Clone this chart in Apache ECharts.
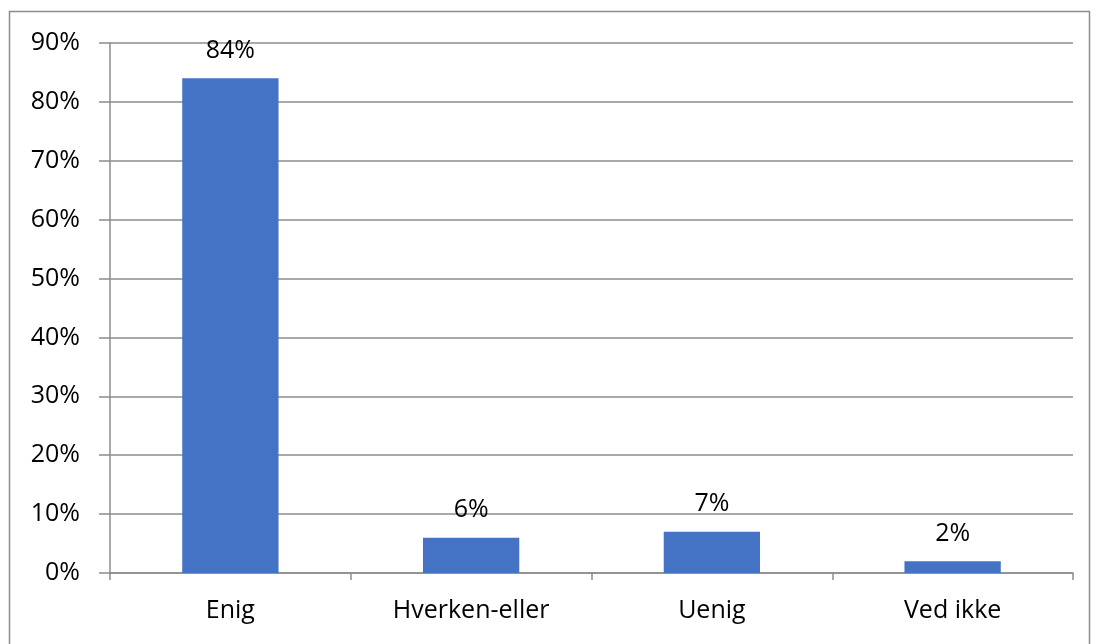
<!DOCTYPE html>
<html><head><meta charset="utf-8">
<script src="https://cdn.jsdelivr.net/npm/echarts@6/dist/echarts.min.js"></script>
<style>html,body{margin:0;padding:0;background:#fff}#c{width:1096px;height:644px}</style>
</head><body><div id="c"></div>
<script>
const categories = ["Enig", "Hverken-eller", "Uenig", "Ved ikke"];
const values = [84, 6, 7, 2];
const yTicks = [0, 10, 20, 30, 40, 50, 60, 70, 80, 90];

const chart = echarts.init(document.getElementById('c'), null, {renderer: 'canvas'});
const font = '"Open Sans", "Liberation Sans", sans-serif';
chart.setOption({
  animation: false,
  graphic: [{
    type: 'rect', shape: {x: 9.5, y: 11.5, width: 1080, height: 660},
    style: {fill: 'none', stroke: '#8c8c8c', lineWidth: 1.5}, silent: true
  }],
  grid: {left: 110, right: 23, top: 43, bottom: 71, containLabel: false},
  xAxis: {
    type: 'category', data: categories,
    axisLine: {lineStyle: {color: '#8c8c8c', width: 1.5}},
    axisTick: {show: true, length: 7, alignWithLabel: false, lineStyle: {color: '#8c8c8c', width: 1.5}},
    axisLabel: {color: '#000', fontSize: 25, fontFamily: font, margin: 25}
  },
  yAxis: {
    type: 'value', min: yTicks[0], max: yTicks[yTicks.length - 1], interval: 10,
    axisLine: {show: true, lineStyle: {color: '#8c8c8c', width: 1.5}},
    axisTick: {show: true, length: 11, lineStyle: {color: '#8c8c8c', width: 1.5}},
    splitLine: {lineStyle: {color: '#8c8c8c', width: 1.5}},
    axisLabel: {color: '#000', fontSize: 25, fontFamily: font, margin: 30, formatter: '{value}%'}
  },
  series: [{
    type: 'bar', data: values, barWidth: '40%',
    itemStyle: {color: '#4472C4'},
    label: {show: true, position: 'top', distance: 15, color: '#000', fontSize: 25, fontFamily: font, formatter: '{c}%'}
  }]
});
</script></body></html>
